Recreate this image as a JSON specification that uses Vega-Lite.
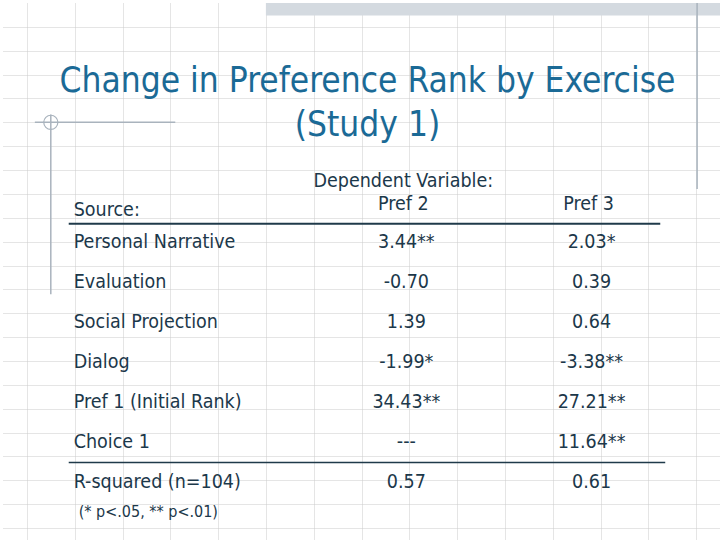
{
  "$schema": "https://vega.github.io/schema/vega-lite/v6.json",
  "width": 720,
  "height": 540,
  "autosize": {"type": "fit", "contains": "padding"},
  "padding": 0,
  "background": "white",
  "config": {
    "view": {"stroke": null},
    "text": {"font": "DejaVu Sans Condensed", "color": "#1c384a"}
  },
  "datasets": {
    "table": [
      {"source": "Personal Narrative", "pref2": "3.44**", "pref3": "2.03*"},
      {"source": "Evaluation", "pref2": "-0.70", "pref3": "0.39"},
      {"source": "Social Projection", "pref2": "1.39", "pref3": "0.64"},
      {"source": "Dialog", "pref2": "-1.99*", "pref3": "-3.38**"},
      {"source": "Pref 1 (Initial Rank)", "pref2": "34.43**", "pref3": "27.21**"},
      {"source": "Choice 1", "pref2": "---", "pref3": "11.64**"},
      {"source": "R-squared (n=104)", "pref2": "0.57", "pref3": "0.61"}
    ],
    "one": [{}]
  },
  "layer": [
    {
      "data": {"name": "one"},
      "mark": {"type": "point", "opacity": 0},
      "encoding": {
        "x": {"datum": 0, "type": "quantitative",
          "scale": {"domain": [0, 720], "nice": false, "zero": false},
          "axis": {"values": [24,48,72,96,120,144,168,192,216,240,264,288,312,336,360,384,408,432,456,480,504,528,552,576,600,624,648,672,696],
            "grid": true, "gridDash": [1, 1], "gridColor": "#cbcbcb", "gridWidth": 1,
            "labels": false, "ticks": false, "domain": false, "title": null, "minExtent": 0, "maxExtent": 0}},
        "y": {"datum": 0, "type": "quantitative",
          "scale": {"domain": [0, 540], "nice": false, "zero": false, "reverse": true},
          "axis": {"values": [24,48,72,96,120,144,168,192,216,240,264,288,312,336,360,384,408,432,456,480,504,528],
            "grid": true, "gridDash": [1, 1], "gridColor": "#cbcbcb", "gridWidth": 1,
            "labels": false, "ticks": false, "domain": false, "title": null, "minExtent": 0, "maxExtent": 0}}
      }
    },
    {
      "data": {"name": "one"},
      "mark": {"type": "rect", "fill": "#d4dae0"},
      "encoding": {
        "x": {"datum": 264, "type": "quantitative"},
        "x2": {"datum": 720},
        "y": {"datum": 0, "type": "quantitative", "scale": {"domain": [0, 540], "nice": false, "zero": false, "reverse": true}, "axis": null},
        "y2": {"datum": 12.5}
      }
    },
    {
      "data": {"name": "one"},
      "mark": {"type": "rule", "stroke": "#a9b3bd", "strokeWidth": 1.5},
      "encoding": {
        "x": {"datum": 697, "type": "quantitative"},
        "y": {"datum": 0, "type": "quantitative", "scale": {"domain": [0, 540], "nice": false, "zero": false, "reverse": true}, "axis": null},
        "y2": {"datum": 187}
      }
    },
    {
      "data": {"name": "one"},
      "mark": {"type": "rule", "stroke": "#a9b3bd", "strokeWidth": 1.5},
      "encoding": {
        "x": {"datum": 32, "type": "quantitative"},
        "x2": {"datum": 173},
        "y": {"datum": 120, "type": "quantitative", "scale": {"domain": [0, 540], "nice": false, "zero": false, "reverse": true}, "axis": null}
      }
    },
    {
      "data": {"name": "one"},
      "mark": {"type": "rule", "stroke": "#a9b3bd", "strokeWidth": 1.5},
      "encoding": {
        "x": {"datum": 48, "type": "quantitative"},
        "y": {"datum": 112, "type": "quantitative", "scale": {"domain": [0, 540], "nice": false, "zero": false, "reverse": true}, "axis": null},
        "y2": {"datum": 293}
      }
    },
    {
      "data": {"name": "one"},
      "mark": {"type": "point", "shape": "circle", "filled": false, "stroke": "#a9b3bd", "strokeWidth": 1.2, "size": 200, "opacity": 1},
      "encoding": {
        "x": {"datum": 48, "type": "quantitative"},
        "y": {"datum": 120, "type": "quantitative", "scale": {"domain": [0, 540], "nice": false, "zero": false, "reverse": true}, "axis": null}
      }
    },
    {
      "data": {"name": "one"},
      "mark": {"type": "text", "text": "Change in Preference Rank by Exercise\n(Study 1)", "lineBreak": "\n", "lineHeight": 44, "fontSize": 35, "align": "center", "baseline": "alphabetic", "color": "#1b6a96"},
      "encoding": {
        "x": {"datum": 366, "type": "quantitative"},
        "y": {"datum": 89, "type": "quantitative", "scale": {"domain": [0, 540], "nice": false, "zero": false, "reverse": true}, "axis": null}
      }
    },
    {
      "data": {"name": "one"},
      "mark": {"type": "rule", "stroke": "#1f3a4a", "strokeWidth": 2},
      "encoding": {
        "x": {"datum": 66, "type": "quantitative"},
        "x2": {"datum": 660},
        "y": {"datum": 222, "type": "quantitative", "scale": {"domain": [0, 540], "nice": false, "zero": false, "reverse": true}, "axis": null}
      }
    },
    {
      "data": {"name": "one"},
      "mark": {"type": "rule", "stroke": "#1f3a4a", "strokeWidth": 1.5},
      "encoding": {
        "x": {"datum": 66, "type": "quantitative"},
        "x2": {"datum": 665},
        "y": {"datum": 462, "type": "quantitative", "scale": {"domain": [0, 540], "nice": false, "zero": false, "reverse": true}, "axis": null}
      }
    },
    {
      "data": {"name": "one"},
      "mark": {"type": "text", "text": "Source:", "fontSize": 19.5, "align": "left", "baseline": "alphabetic"},
      "encoding": {
        "x": {"datum": 71, "type": "quantitative"},
        "y": {"datum": 214, "type": "quantitative", "scale": {"domain": [0, 540], "nice": false, "zero": false, "reverse": true}, "axis": null}
      }
    },
    {
      "data": {"name": "one"},
      "mark": {"type": "text", "text": "Dependent Variable:", "fontSize": 19.5, "align": "center", "baseline": "alphabetic"},
      "encoding": {
        "x": {"datum": 402, "type": "quantitative"},
        "y": {"datum": 185, "type": "quantitative", "scale": {"domain": [0, 540], "nice": false, "zero": false, "reverse": true}, "axis": null}
      }
    },
    {
      "data": {"name": "one"},
      "mark": {"type": "text", "text": "Pref 2", "fontSize": 19.5, "align": "center", "baseline": "alphabetic"},
      "encoding": {
        "x": {"datum": 402, "type": "quantitative"},
        "y": {"datum": 208, "type": "quantitative", "scale": {"domain": [0, 540], "nice": false, "zero": false, "reverse": true}, "axis": null}
      }
    },
    {
      "data": {"name": "one"},
      "mark": {"type": "text", "text": "Pref 3", "fontSize": 19.5, "align": "center", "baseline": "alphabetic"},
      "encoding": {
        "x": {"datum": 588, "type": "quantitative"},
        "y": {"datum": 208, "type": "quantitative", "scale": {"domain": [0, 540], "nice": false, "zero": false, "reverse": true}, "axis": null}
      }
    },
    {
      "data": {"name": "one"},
      "mark": {"type": "text", "text": "(* p<.05, ** p<.01)", "fontSize": 16, "align": "left", "baseline": "alphabetic"},
      "encoding": {
        "x": {"datum": 76, "type": "quantitative"},
        "y": {"datum": 517, "type": "quantitative", "scale": {"domain": [0, 540], "nice": false, "zero": false, "reverse": true}, "axis": null}
      }
    },
    {
      "data": {"name": "table"},
      "mark": {"type": "text", "fontSize": 19.5, "align": "left", "baseline": "alphabetic"},
      "encoding": {
        "x": {"datum": 71, "type": "quantitative"},
        "y": {"field": "source", "type": "ordinal", "scale": {"type": "point", "domain": ["Personal Narrative","Evaluation","Social Projection","Dialog","Pref 1 (Initial Rank)","Choice 1","R-squared (n=104)"], "range": [245, 485], "padding": 0}, "axis": null},
        "text": {"field": "source"}
      }
    },
    {
      "data": {"name": "table"},
      "mark": {"type": "text", "fontSize": 19.5, "align": "center", "baseline": "alphabetic"},
      "encoding": {
        "x": {"datum": 405, "type": "quantitative"},
        "y": {"field": "source", "type": "ordinal", "scale": {"type": "point", "domain": ["Personal Narrative","Evaluation","Social Projection","Dialog","Pref 1 (Initial Rank)","Choice 1","R-squared (n=104)"], "range": [245, 485], "padding": 0}, "axis": null},
        "text": {"field": "pref2"}
      }
    },
    {
      "data": {"name": "table"},
      "mark": {"type": "text", "fontSize": 19.5, "align": "center", "baseline": "alphabetic"},
      "encoding": {
        "x": {"datum": 591, "type": "quantitative"},
        "y": {"field": "source", "type": "ordinal", "scale": {"type": "point", "domain": ["Personal Narrative","Evaluation","Social Projection","Dialog","Pref 1 (Initial Rank)","Choice 1","R-squared (n=104)"], "range": [245, 485], "padding": 0}, "axis": null},
        "text": {"field": "pref3"}
      }
    }
  ],
  "resolve": {"scale": {"y": "independent"}}
}
